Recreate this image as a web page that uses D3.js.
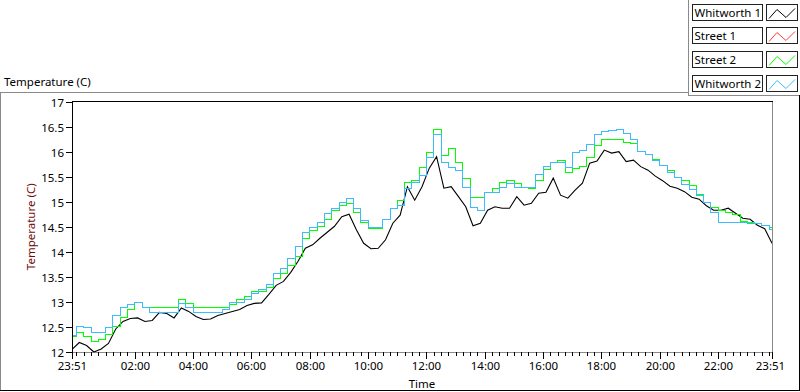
<!DOCTYPE html>
<html><head><meta charset="utf-8">
<script src="https://cdn.jsdelivr.net/npm/d3@7"></script>
<style>
body{margin:0;background:#fff}
svg{display:block}
text{font-family:"Noto Sans",sans-serif;font-size:11.5px}
</style>
</head><body>
<svg id="chart" width="800" height="392"></svg>
<script>
// ---------- data ----------
const startLabel = "23:51";
const stepMinutes = 15;           // sampling interval of the series
const seriesNames = ["Whitworth 1", "Street 1", "Street 2", "Whitworth 2"];
const seriesColors = ["#000000", "#ff3c3c", "#00ff00", "#3cbcff"];

const whitworth1 = [12.05,12.19,12.13,12.0,12.06,12.17,12.46,12.61,12.67,12.68,12.61,12.63,12.79,12.77,12.68,12.88,
  12.81,12.71,12.65,12.66,12.73,12.77,12.81,12.85,12.93,12.97,12.98,13.15,13.33,13.41,13.59,13.81,
  14.07,14.14,14.27,14.39,14.51,14.7,14.75,14.44,14.17,14.06,14.07,14.24,14.57,14.73,15.3,15.03,
  15.3,15.67,15.9,15.27,15.3,15.1,14.9,14.52,14.57,14.83,14.9,14.87,14.87,15.1,14.93,14.97,
  15.17,15.19,15.47,15.13,15.07,15.23,15.37,15.77,15.81,16.03,15.97,16.0,15.8,15.83,15.7,15.63,
  15.51,15.42,15.31,15.27,15.2,15.09,15.05,14.92,14.83,14.83,14.87,14.77,14.67,14.65,14.53,14.46,14.17];
const street1 = [];
const street2 = [12.31,12.39,12.31,12.21,12.25,12.35,12.51,12.7,12.86,12.99,12.9,12.9,12.9,12.9,12.9,13.05,
  12.98,12.9,12.9,12.9,12.9,12.9,12.95,13.06,13.11,13.21,13.21,13.3,13.48,13.58,13.73,13.91,
  14.27,14.44,14.52,14.65,14.83,14.93,14.97,14.8,14.6,14.48,14.47,14.65,14.88,15.03,15.4,15.43,
  15.7,16.0,16.46,15.93,16.07,15.8,15.47,15.1,15.1,15.2,15.28,15.39,15.43,15.37,15.3,15.27,
  15.43,15.65,15.8,15.83,15.6,15.67,15.72,15.9,16.13,16.26,16.26,16.26,16.2,16.17,16.01,15.95,
  15.85,15.73,15.63,15.5,15.43,15.33,15.16,14.99,14.9,14.83,14.8,14.75,14.61,14.57,14.57,14.53,14.5];
const whitworth2 = [12.33,12.51,12.5,12.39,12.39,12.5,12.73,12.9,12.95,12.99,12.9,12.79,12.79,12.79,12.79,12.98,
  12.9,12.79,12.79,12.79,12.79,12.85,12.99,12.99,13.05,13.18,13.25,13.35,13.58,13.68,13.88,14.11,
  14.4,14.5,14.6,14.77,14.87,14.99,15.07,14.87,14.63,14.5,14.5,14.65,14.87,14.93,15.27,15.4,
  15.53,15.9,16.36,15.8,15.7,15.63,15.3,14.9,14.83,15.19,15.2,15.3,15.37,15.3,15.3,15.3,
  15.55,15.72,15.8,15.8,15.7,16.0,16.03,16.15,16.36,16.42,16.43,16.45,16.38,16.25,16.01,15.95,
  15.83,15.73,15.6,15.49,15.35,15.25,15.13,14.99,14.79,14.59,14.59,14.59,14.59,14.59,14.57,14.53,14.46];

const yTickValues = [12, 12.5, 13, 13.5, 14, 14.5, 15, 15.5, 16, 16.5, 17];
const xTickLabels = ["23:51","02:00","04:00","06:00","08:00","10:00","12:00","14:00","16:00","18:00","20:00","22:00","23:51"];
const chartTitle = "Temperature (C)";
const yTitle = "Temperature (C)";
const xTitle = "Time";

// ---------- layout ----------
const svg = d3.select("#chart");
const L = 72, R = 772, T = 101.5, B = 352;
const t0 = new Date(2000, 0, 1, 23, 51);
const t1 = new Date(t0.getTime() + 24 * 3600 * 1000);
const x = d3.scaleTime().domain([t0, t1]).range([L, R]);
const y = d3.scaleLinear().domain([12, 17]).range([B, T]);
const timeAt = i => new Date(t0.getTime() + i * stepMinutes * 60000);
const snap = v => Math.round(v) + 0.5;

// outer frame
svg.append("line").attr("x1", 0).attr("x2", 688).attr("y1", 92.5).attr("y2", 92.5).attr("stroke", "#8a8a8a");
svg.append("line").attr("x1", 688.5).attr("x2", 688.5).attr("y1", 0).attr("y2", 95).attr("stroke", "#8a8a8a");
svg.append("line").attr("x1", 688).attr("x2", 800).attr("y1", 95.5).attr("y2", 95.5).attr("stroke", "#8a8a8a");
svg.append("line").attr("x1", 0.5).attr("x2", 0.5).attr("y1", 92).attr("y2", 391).attr("stroke", "#8a8a8a");
svg.append("line").attr("x1", 0).attr("x2", 800).attr("y1", 390.5).attr("y2", 390.5).attr("stroke", "#000");
svg.append("line").attr("x1", 799.5).attr("x2", 799.5).attr("y1", 95).attr("y2", 391).attr("stroke", "#000");

// chart title
svg.append("text").attr("x", 4).attr("y", 86).attr("fill", "#000").text(chartTitle);

// plot frame
svg.append("rect").attr("x", L).attr("y", T).attr("width", R - L).attr("height", B - T).attr("fill", "#fff");
svg.append("line").attr("x1", R + 0.5).attr("x2", R + 0.5).attr("y1", T).attr("y2", B + 1).attr("stroke", "#8a8a8a");
svg.append("line").attr("x1", L).attr("x2", R + 1).attr("y1", B + 0.5).attr("y2", B + 0.5).attr("stroke", "#8a8a8a");
svg.append("line").attr("x1", L).attr("x2", R + 1).attr("y1", T).attr("y2", T).attr("stroke", "#000");
svg.append("line").attr("x1", L + 0.5).attr("x2", L + 0.5).attr("y1", T - 0.5).attr("y2", B + 1).attr("stroke", "#000");

// y axis ticks + labels
const yAx = svg.append("g");
yTickValues.forEach(v => {
  const yy = snap(y(v));
  yAx.append("line").attr("x1", 66).attr("x2", L).attr("y1", yy).attr("y2", yy).attr("stroke", "#000");
  yAx.append("text").attr("x", 64).attr("y", yy + 4).attr("text-anchor", "end").attr("fill", "#000").text(v);
});

// x axis ticks + labels
const majorTimes = [t0].concat(d3.timeHour.every(2).range(new Date(2000,0,2,2,0), t1)).concat([t1]);
const minorTimes = d3.timeMinute.every(15).range(new Date(2000,0,2,0,0), t1);
const xAx = svg.append("g");
minorTimes.forEach(t => {
  const xx = snap(x(t));
  xAx.append("line").attr("x1", xx).attr("x2", xx).attr("y1", B).attr("y2", B + 4).attr("stroke", "#000");
});
majorTimes.forEach((t, i) => {
  const xx = snap(x(t));
  xAx.append("line").attr("x1", xx).attr("x2", xx).attr("y1", B).attr("y2", B + 7).attr("stroke", "#000");
  xAx.append("text").attr("x", i === majorTimes.length - 1 ? xx - 2 : xx).attr("y", 370).attr("text-anchor", "middle").attr("fill", "#000").text(xTickLabels[i]);
});

// axis titles
svg.append("text").attr("transform", `translate(35,${(T + B) / 2}) rotate(-90)`).attr("text-anchor", "middle")
  .attr("fill", "#6e0c0c").text(yTitle);
svg.append("text").attr("x", (L + R) / 2).attr("y", 388).attr("text-anchor", "middle").attr("fill", "#000").text(xTitle);

// data lines
svg.append("clipPath").attr("id", "clip").append("rect").attr("x", L + 1).attr("y", T + 0.5).attr("width", R - L - 1).attr("height", B - T);
const plot = svg.append("g").attr("clip-path", "url(#clip)");
const allSeries = [whitworth1, street1, street2, whitworth2];
allSeries.forEach((s, si) => {
  if (!s.length) return;
  const stepped = si !== 0;
  const line = stepped
    ? d3.line().x((d, i) => snap(x(timeAt(i)))).y(d => snap(y(d))).curve(d3.curveStep)
    : d3.line().x((d, i) => x(timeAt(i))).y(d => y(d)).curve(d3.curveLinear);
  plot.append("path").datum(s).attr("d", line).attr("fill", "none")
    .attr("stroke", seriesColors[si]).attr("stroke-width", stepped ? 1 : 1.1)
    .attr("shape-rendering", stepped ? "crispEdges" : "auto");
});

// legend
const lg = svg.append("g");
seriesNames.forEach((name, i) => {
  const top = 3.5 + i * 23.8;
  const ty = Math.round(top) + 0.5;
  lg.append("rect").attr("x", 692.5).attr("y", ty).attr("width", 70).attr("height", 16).attr("fill", "#fff").attr("stroke", "#222");
  lg.append("text").attr("x", 694.5).attr("y", ty + 12.5).attr("fill", "#000").text(name);
  lg.append("rect").attr("x", 766.5).attr("y", ty).attr("width", 31).attr("height", 16).attr("fill", "#fff").attr("stroke", "#222");
  const pts = [[769, ty + 14], [777, ty + 5], [786, ty + 13], [795, ty + 4]];
  lg.append("path").attr("d", d3.line()(pts)).attr("fill", "none").attr("stroke", seriesColors[i]).attr("stroke-width", 1);
});
</script>
</body></html>
